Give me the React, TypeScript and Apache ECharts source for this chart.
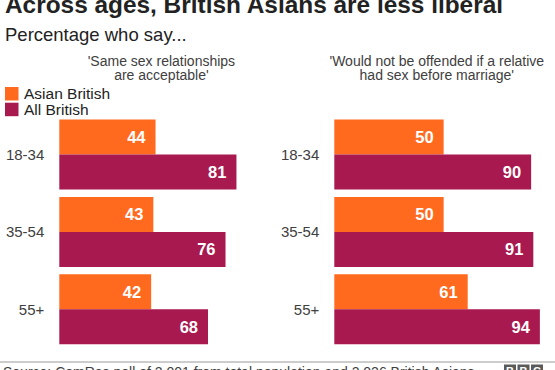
import React, { useEffect, useRef } from "react";
import * as echarts from "echarts";

const categories = ["18-34", "35-54", "55+"];
const seriesNames = ["Asian British", "All British"];
const sameSexAsian = [44, 43, 42];
const sameSexAll = [81, 76, 68];
const premaritalAsian = [50, 50, 61];
const premaritalAll = [90, 91, 94];

const title = "Across ages, British Asians are less liberal";
const subtitle = "Percentage who say...";
const panelTitleLeft = ["'Same sex relationships", "are acceptable'"];
const panelTitleRight = ["'Would not be offended if a relative", "had sex before marriage'"];
const source = "Source: ComRes poll of 2,001 from total population and 2,026 British Asians";

const ORANGE = "#ff6a1f";
const PURPLE = "#a8194f";
const FONT = '"Liberation Sans", Arial, Helvetica, sans-serif';

function txt(text: string, x: number, y: number, size: number, opts: any = {}) {
  const weight = opts.bold ? "bold " : "";
  return {
    type: "text",
    x,
    y,
    silent: true,
    style: {
      text,
      font: `${weight}${size}px ${FONT}`,
      fill: opts.fill || "#222222",
      align: opts.align || "left",
      verticalAlign: "middle",
      textAlign: opts.align || "left",
      textVerticalAlign: "middle",
    },
  };
}

export default function App() {
  const ref = useRef<HTMLDivElement>(null);
  useEffect(() => {
    if (!ref.current) return;
    const chart = echarts.init(ref.current, undefined, { renderer: "svg" });
    const barLabel = {
      show: true,
      position: "insideRight",
      distance: 10,
      color: "#ffffff",
      fontWeight: "bold",
      fontSize: 16.5,
      fontFamily: FONT,
    };
    const grids = [
      { left: 59.3, top: 115.8, width: 218.7, height: 232.2 },
      { left: 334.3, top: 115.8, width: 218.7, height: 232.2 },
    ];
    const colors = [ORANGE, PURPLE];
    const mkBar = (name: string, data: number[], color: string, idx: number) => ({
      name,
      type: "bar",
      xAxisIndex: idx,
      yAxisIndex: idx,
      data,
      barWidth: 35,
      barGap: "0%",
      itemStyle: { color },
      label: barLabel,
      silent: true,
    });
    chart.setOption({
      animation: false,
      backgroundColor: "#ffffff",
      textStyle: { fontFamily: FONT },
      grid: grids,
      xAxis: [0, 1].map((i) => ({
        type: "value",
        gridIndex: i,
        min: 0,
        max: 100,
        show: false,
      })),
      yAxis: [0, 1].map((i) => ({
        type: "category",
        gridIndex: i,
        data: categories,
        inverse: true,
        axisLine: { show: false },
        axisTick: { show: false },
        splitLine: { show: false },
        axisLabel: { fontSize: 15, color: "#404040", margin: 15, fontFamily: FONT },
      })),
      series: [
        mkBar(seriesNames[0], sameSexAsian, ORANGE, 0),
        mkBar(seriesNames[1], sameSexAll, PURPLE, 0),
        mkBar(seriesNames[0], premaritalAsian, ORANGE, 1),
        mkBar(seriesNames[1], premaritalAll, PURPLE, 1),
      ],
      graphic: [
        txt(title, 5, 4.3, 24.4, { bold: true }),
        txt(subtitle, 5, 34.6, 18.5),
        txt(panelTitleLeft[0], 161.4, 60.8, 14, { align: "center", fill: "#404040" }),
        txt(panelTitleLeft[1], 161.4, 75.2, 14, { align: "center", fill: "#404040" }),
        txt(panelTitleRight[0], 436.8, 60.8, 14, { align: "center", fill: "#404040" }),
        txt(panelTitleRight[1], 436.8, 75.2, 14, { align: "center", fill: "#404040" }),
        ...seriesNames.flatMap((name, i) => [
          {
            type: "rect",
            silent: true,
            shape: { x: 5, y: 87 + i * 15.7, width: 13.5, height: 13.5 },
            style: { fill: colors[i] },
          },
          txt(name, 24, 93.6 + i * 15.7, 15.5),
        ]),
        {
          type: "line",
          silent: true,
          shape: { x1: 0, y1: 362, x2: 555, y2: 362 },
          style: { stroke: "#9a9a9a", lineWidth: 1 },
        },
        txt(source, 3, 372, 14, { fill: "#404040" }),
        ...["B", "B", "C"].flatMap((ch, i) => [
          {
            type: "rect",
            silent: true,
            shape: { x: 504 + i * 13.5, y: 364.5, width: 12, height: 12 },
            style: { fill: "#5a5a5a" },
          },
          txt(ch, 510 + i * 13.5, 371, 11, { bold: true, align: "center", fill: "#ffffff" }),
        ]),
      ],
    });
    return () => chart.dispose();
  }, []);
  return (
    <div
      ref={ref}
      style={{ position: "fixed", left: 0, top: 0, width: 555, height: 370, background: "#ffffff" }}
    />
  );
}
